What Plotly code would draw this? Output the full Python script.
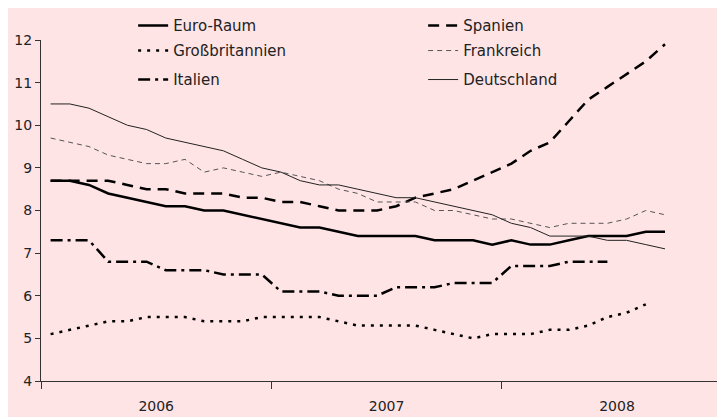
import plotly.graph_objects as go

# Monatswerte Jan 2006 - Sep 2008
months = list(range(33))

euro_raum = [8.7, 8.7, 8.6, 8.4, 8.3, 8.2, 8.1, 8.1, 8.0, 8.0, 7.9, 7.8,
             7.7, 7.6, 7.6, 7.5, 7.4, 7.4, 7.4, 7.4, 7.3, 7.3, 7.3, 7.2,
             7.3, 7.2, 7.2, 7.3, 7.4, 7.4, 7.4, 7.5, 7.5]
spanien = [8.7, 8.7, 8.7, 8.7, 8.6, 8.5, 8.5, 8.4, 8.4, 8.4, 8.3, 8.3,
           8.2, 8.2, 8.1, 8.0, 8.0, 8.0, 8.1, 8.3, 8.4, 8.5, 8.7, 8.9,
           9.1, 9.4, 9.6, 10.1, 10.6, 10.9, 11.2, 11.5, 11.9]
grossbritannien = [5.1, 5.2, 5.3, 5.4, 5.4, 5.5, 5.5, 5.5, 5.4, 5.4, 5.4, 5.5,
                   5.5, 5.5, 5.5, 5.4, 5.3, 5.3, 5.3, 5.3, 5.2, 5.1, 5.0, 5.1,
                   5.1, 5.1, 5.2, 5.2, 5.3, 5.5, 5.6, 5.8]
frankreich = [9.7, 9.6, 9.5, 9.3, 9.2, 9.1, 9.1, 9.2, 8.9, 9.0, 8.9, 8.8,
              8.9, 8.8, 8.7, 8.5, 8.4, 8.2, 8.2, 8.2, 8.0, 8.0, 7.9, 7.8,
              7.8, 7.7, 7.6, 7.7, 7.7, 7.7, 7.8, 8.0, 7.9]
italien = [7.3, 7.3, 7.3, 6.8, 6.8, 6.8, 6.6, 6.6, 6.6, 6.5, 6.5, 6.5,
           6.1, 6.1, 6.1, 6.0, 6.0, 6.0, 6.2, 6.2, 6.2, 6.3, 6.3, 6.3,
           6.7, 6.7, 6.7, 6.8, 6.8, 6.8]
deutschland = [10.5, 10.5, 10.4, 10.2, 10.0, 9.9, 9.7, 9.6, 9.5, 9.4, 9.2, 9.0,
               8.9, 8.7, 8.6, 8.6, 8.5, 8.4, 8.3, 8.3, 8.2, 8.1, 8.0, 7.9,
               7.7, 7.6, 7.4, 7.4, 7.4, 7.3, 7.3, 7.2, 7.1]

year_labels = ["2006", "2007", "2008"]
year_pos = [5.5, 17.5, 29.5]

BG = "#FFE4E6"
FONT = "DejaVu Sans"

series = [
    ("Euro-Raum", euro_raum, dict(color="black", width=2.5, dash="solid"), "legend"),
    ("Spanien", spanien, dict(color="black", width=2.5, dash="11px,7px"), "legend"),
    ("Großbritannien", grossbritannien, dict(color="black", width=2.5, dash="3px,6px"), "legend2"),
    ("Frankreich", frankreich, dict(color="#555555", width=1, dash="5px,4px"), "legend2"),
    ("Italien", italien, dict(color="black", width=2.5, dash="12px,5px,3px,5px"), "legend3"),
    ("Deutschland", deutschland, dict(color="#222222", width=1, dash="solid"), "legend3"),
]

fig = go.Figure()
for name, vals, line, leg in series:
    fig.add_trace(go.Scatter(
        x=months[:len(vals)], y=vals, name=name, mode="lines",
        line=line, legend=leg,
    ))

leg_common = dict(
    orientation="h", xanchor="left", yanchor="top", x=0.1347,
    entrywidth=245, bgcolor="rgba(0,0,0,0)",
    font=dict(family=FONT, size=15, color="#222222"),
)

# the page puts the figure 8px in from the top-left corner
fig.update_layout(
    width=717, height=409,
    margin=dict(l=33, r=0, t=32, b=36),
    paper_bgcolor=BG, plot_bgcolor=BG,
    font=dict(family=FONT, size=14, color="#222222"),
    legend=dict(leg_common, y=1.09),
    legend2=dict(leg_common, y=1.0167),
    legend3=dict(leg_common, y=0.9317),
    xaxis=dict(
        range=[-0.5, 35.125], showgrid=False, zeroline=False, automargin=False,
        showline=True, linecolor="#333333", linewidth=1,
        tickvals=year_pos, ticktext=year_labels, ticks="", ticklabelstandoff=12,
        minor=dict(tick0=-0.5, dtick=12, ticks="outside", ticklen=7,
                   tickcolor="#333333", showgrid=False),
    ),
    yaxis=dict(
        range=[4, 12], dtick=1, showgrid=False, zeroline=False, automargin=False,
        showline=True, linecolor="#333333", linewidth=1,
        ticks="outside", ticklen=5, tickcolor="#333333",
    ),
)

fig.write_html("out.html")
